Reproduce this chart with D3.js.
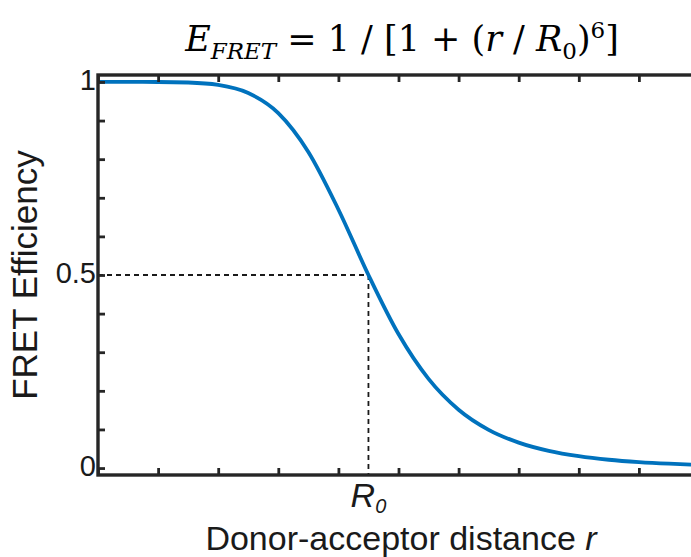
<!DOCTYPE html>
<html>
<head>
<meta charset="utf-8">
<script src="https://cdn.jsdelivr.net/npm/d3@7"></script>
<style>
  html, body { margin: 0; padding: 0; background: #fff; }
  svg { display: block; }
</style>
</head>
<body>
<svg id="chart" width="691" height="557"></svg>
<script>
// Donor–acceptor distance (tick units) and the FRET efficiency
const distance = [0, 0.5, 1, 1.5, 2, 2.5, 3, 3.5, 4, 4.5, 5, 5.5, 6, 6.5, 7, 7.5, 8, 8.5, 9, 9.5, 10];
const efficiency = [1.000, 1.000, 0.9999, 0.9986, 0.9923, 0.9714, 0.9193, 0.8187, 0.6697, 0.500,
                    0.347, 0.2309, 0.1511, 0.0990, 0.0659, 0.0446, 0.0307, 0.0215, 0.0154, 0.0112, 0.0082];

// Förster radius: distance at which efficiency is one half
const r0Distance = 4.5;
const r0Efficiency = 0.5;

// Axis ticks and labels
const xTicks = [0, 1, 2, 3, 4, 5, 6, 7, 8, 9, 10];
const yTicks = [0, 0.1, 0.2, 0.3, 0.4, 0.5, 0.6, 0.7, 0.8, 0.9, 1];
const yTickLabels = ["0", "0.5", "1"];
const xDomain = [0, 10];
const yDomain = [-0.018, 1.018];

const svg = d3.select("#chart");
const W = 691, H = 557;
const margin = { left: 98, top: 75, right: -8, bottom: 82 };

const x = d3.scaleLinear().domain(xDomain).range([margin.left, W - margin.right]);
const y = d3.scaleLinear().domain(yDomain).range([H - margin.bottom, margin.top]);

const axisColor = "#262626";
const lineColor = "#0072BD";
const sansFont = "'Liberation Sans', Arial, Helvetica, sans-serif";
const serifFont = "'DejaVu Serif', 'Liberation Serif', serif";

svg.append("rect").attr("width", W).attr("height", H).attr("fill", "#fff");

// Clip for the plotting area
svg.append("clipPath").attr("id", "plotClip")
  .append("rect")
  .attr("x", x(xDomain[0])).attr("y", y(yDomain[1]))
  .attr("width", x(xDomain[1]) - x(xDomain[0]))
  .attr("height", y(yDomain[0]) - y(yDomain[1]));

// Dashed guides to the half-efficiency point
const guides = svg.append("g")
  .attr("stroke", "#1a1a1a").attr("stroke-width", 1.8)
  .attr("stroke-dasharray", "5,4").attr("fill", "none");
guides.append("line")
  .attr("x1", x(xDomain[0])).attr("y1", y(r0Efficiency))
  .attr("x2", x(r0Distance)).attr("y2", y(r0Efficiency));
guides.append("line")
  .attr("x1", x(r0Distance)).attr("y1", y(r0Efficiency))
  .attr("x2", x(r0Distance)).attr("y2", y(yDomain[0]));

// Efficiency curve
const points = distance.map((d, i) => [d, efficiency[i]]);
const line = d3.line()
  .x(d => x(d[0])).y(d => y(d[1]))
  .curve(d3.curveMonotoneX);
svg.append("path")
  .datum(points)
  .attr("clip-path", "url(#plotClip)")
  .attr("fill", "none")
  .attr("stroke", lineColor)
  .attr("stroke-width", 3.8)
  .attr("stroke-linejoin", "round")
  .attr("d", line);

// Axes (box style, inward ticks)
const tickLen = 7;
const labelSet = new Set(yTickLabels);
function styleAxis(g) {
  g.select(".domain").remove();
  g.selectAll(".tick line").attr("stroke", axisColor).attr("stroke-width", 2.8);
  g.selectAll(".tick text")
    .attr("fill", "#1a1a1a")
    .attr("font-family", sansFont)
    .attr("font-size", 29);
}

svg.append("g")
  .attr("transform", `translate(0,${y(yDomain[0])})`)
  .call(d3.axisBottom(x).tickValues(xTicks).tickSize(-tickLen).tickFormat(""))
  .call(styleAxis);
svg.append("g")
  .attr("transform", `translate(0,${y(yDomain[1])})`)
  .call(d3.axisTop(x).tickValues(xTicks).tickSize(-tickLen).tickFormat(""))
  .call(styleAxis);
svg.append("g")
  .attr("transform", `translate(${x(xDomain[0])},0)`)
  .call(d3.axisLeft(y).tickValues(yTicks).tickSize(-tickLen).tickPadding(2)
    .tickFormat(d => { const s = d3.format("~g")(d); return labelSet.has(s) ? s : ""; }))
  .call(styleAxis)
  .call(g => g.selectAll(".tick text").attr("dy", "0.32em").attr("y", -2));
svg.append("g")
  .attr("transform", `translate(${x(xDomain[1])},0)`)
  .call(d3.axisRight(y).tickValues(yTicks).tickSize(-tickLen).tickFormat(""))
  .call(styleAxis);

// Box outline
svg.append("rect")
  .attr("x", x(xDomain[0])).attr("y", y(yDomain[1]))
  .attr("width", x(xDomain[1]) - x(xDomain[0]))
  .attr("height", y(yDomain[0]) - y(yDomain[1]))
  .attr("fill", "none").attr("stroke", axisColor).attr("stroke-width", 3.4);

// R0 tick label
const r0Label = svg.append("text")
  .attr("x", x(r0Distance)).attr("y", 507)
  .attr("text-anchor", "middle")
  .attr("font-family", sansFont).attr("font-size", 34)
  .attr("fill", "#1a1a1a");
r0Label.append("tspan").attr("font-style", "italic").text("R");
r0Label.append("tspan").attr("font-style", "italic").attr("font-size", 20).attr("dy", 6).text("0");

// Axis titles
const xTitle = svg.append("text")
  .attr("x", 401).attr("y", 550)
  .attr("text-anchor", "middle")
  .attr("font-family", sansFont).attr("font-size", 34)
  .attr("fill", "#1a1a1a");
xTitle.append("tspan").text("Donor-acceptor distance ");
xTitle.append("tspan").attr("font-style", "italic").text("r");

svg.append("text")
  .attr("transform", `translate(37,${(y(yDomain[0]) + y(yDomain[1])) / 2}) rotate(-90)`)
  .attr("text-anchor", "middle")
  .attr("font-family", sansFont).attr("font-size", 35)
  .attr("fill", "#1a1a1a")
  .text("FRET Efficiency");

// Title: E_FRET = 1 / [1 + (r / R0)^6]
const title = svg.append("text")
  .attr("x", 402).attr("y", 51)
  .attr("text-anchor", "middle")
  .attr("font-family", serifFont).attr("font-size", 35)
  .attr("fill", "#000");
title.append("tspan").attr("font-style", "italic").text("E");
title.append("tspan").attr("font-style", "italic").attr("font-size", 23).attr("dy", 8).text("FRET");
title.append("tspan").attr("dy", -8).text(" = 1 / [1 + (");
title.append("tspan").attr("font-style", "italic").text("r");
title.append("tspan").text(" / ");
title.append("tspan").attr("font-style", "italic").text("R");
title.append("tspan").attr("font-size", 23).attr("dy", 8).text("0");
title.append("tspan").attr("dy", -8).text(")");
title.append("tspan").attr("font-size", 23).attr("dy", -13).text("6");
title.append("tspan").attr("dy", 13).text("]");
</script>
</body>
</html>
